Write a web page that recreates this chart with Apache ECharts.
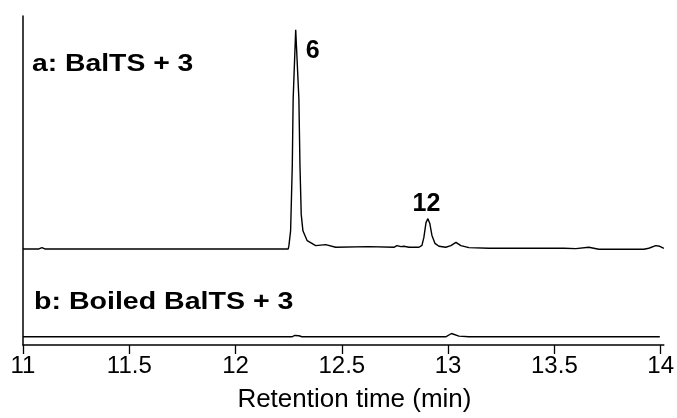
<!DOCTYPE html>
<html>
<head>
<meta charset="utf-8">
<script src="https://cdn.jsdelivr.net/npm/echarts@6/dist/echarts.min.js"></script>
<style>
  html, body { margin: 0; padding: 0; background: #fff; }
  #chart { width: 677px; height: 418px; }
</style>
</head>
<body>
<div id="chart"></div>
<script>
// retention time (min) and detector signal (arbitrary units)
var timesA = [11.0, 11.075, 11.089, 11.103, 11.174, 11.183, 11.193, 12.237, 12.248, 12.251, 12.259, 12.267, 12.271, 12.283,
  12.298, 12.303, 12.309, 12.317, 12.337, 12.377, 12.424, 12.471, 12.627, 12.745, 12.759, 12.778, 12.792, 12.816,
  12.863, 12.877, 12.886, 12.896, 12.905, 12.914, 12.924, 12.938, 12.957, 12.989, 13.013, 13.037, 13.060, 13.098,
  13.192, 13.38, 13.545, 13.554, 13.601, 13.662, 13.709, 13.921, 13.944, 13.977, 13.996, 14.015];
var valuesA = [29.2, 29.2, 29.6, 29.2, 29.2, 29.4, 29.2, 29.2, 29.2, 30.2, 34.7, 54.7, 74.8, 95.8,
  74.8, 54.7, 39.7, 34.7, 31.7, 30.2, 30.5, 29.7, 29.9, 29.7, 30.2, 29.9, 30.0, 29.7,
  29.7, 30.3, 32.7, 37.2, 38.4, 36.9, 33.3, 30.9, 30.0, 29.7, 30.2, 31.2, 30.2, 29.6,
  29.4, 29.4, 29.4, 29.1, 29.3, 29.7, 29.1, 29.1, 29.4, 30.2, 30.0, 29.4];

var timesB = [11.0, 12.265, 12.279, 12.298, 12.312, 12.989, 13.016, 13.051, 13.098, 13.996];
var valuesB = [2.5, 2.5, 2.9, 2.8, 2.5, 2.5, 3.5, 2.7, 2.5, 2.5];

var tickValues = [11, 11.5, 12, 12.5, 13, 13.5, 14];
var peakNames = ['6', '12'];
var peakTimes = [12.283, 12.905];
var peakValues = [95.8, 38.4];

function pairs(xs, ys) {
  var out = [];
  for (var i = 0; i < xs.length; i++) out.push([xs[i], ys[i]]);
  return out;
}

var chart = echarts.init(document.getElementById('chart'));

chart.setOption({
  animation: false,
  backgroundColor: '#fff',
  grid: { left: 23, right: 12, top: 16, bottom: 69 },
  xAxis: {
    type: 'value',
    min: 11,
    max: 14.015,
    name: 'Retention time (min)',
    nameLocation: 'middle',
    nameGap: 42,
    nameTextStyle: { fontSize: 26, color: '#000', fontFamily: 'Arial', padding: [0, 0, 0, 22] },
    axisLine: { show: true, lineStyle: { color: '#000', width: 1.5 } },
    axisTick: { show: true, customValues: tickValues, length: 9, lineStyle: { color: '#000', width: 1.3 } },
    axisLabel: { customValues: tickValues, fontSize: 24, color: '#000', fontFamily: 'Arial', margin: 9 },
    splitLine: { show: false }
  },
  yAxis: {
    type: 'value',
    min: 0,
    max: 100,
    axisLine: { show: true, lineStyle: { color: '#000', width: 1.5 } },
    axisTick: { show: false },
    axisLabel: { show: false },
    splitLine: { show: false }
  },
  graphic: [
    {
      type: 'text', x: 32, y: 64.5, scaleX: 1.18,
      style: { text: 'a: BalTS + 3', font: 'bold 24px Arial', fill: '#000', verticalAlign: 'middle', align: 'left' }
    },
    {
      type: 'text', x: 34, y: 302, scaleX: 1.19,
      style: { text: 'b: Boiled BalTS + 3', font: 'bold 24px Arial', fill: '#000', verticalAlign: 'middle', align: 'left' }
    }
  ],
  series: [
    {
      name: 'a',
      type: 'line',
      data: pairs(timesA, valuesA),
      showSymbol: false,
      lineStyle: { color: '#000', width: 1.4 },
      markPoint: {
        symbol: 'circle',
        symbolSize: 0,
        data: [
          { name: peakNames[0], coord: [peakTimes[0], peakValues[0]], label: { offset: [17, 21] } },
          { name: peakNames[1], coord: [peakTimes[1], peakValues[1]], label: { offset: [-1.5, -15] } }
        ],
        label: { show: true, formatter: '{b}', fontSize: 25, fontWeight: 'bold', color: '#000', fontFamily: 'Arial' }
      }
    },
    {
      name: 'b',
      type: 'line',
      data: pairs(timesB, valuesB),
      showSymbol: false,
      lineStyle: { color: '#000', width: 1.4 }
    }
  ]
});
</script>
</body>
</html>
